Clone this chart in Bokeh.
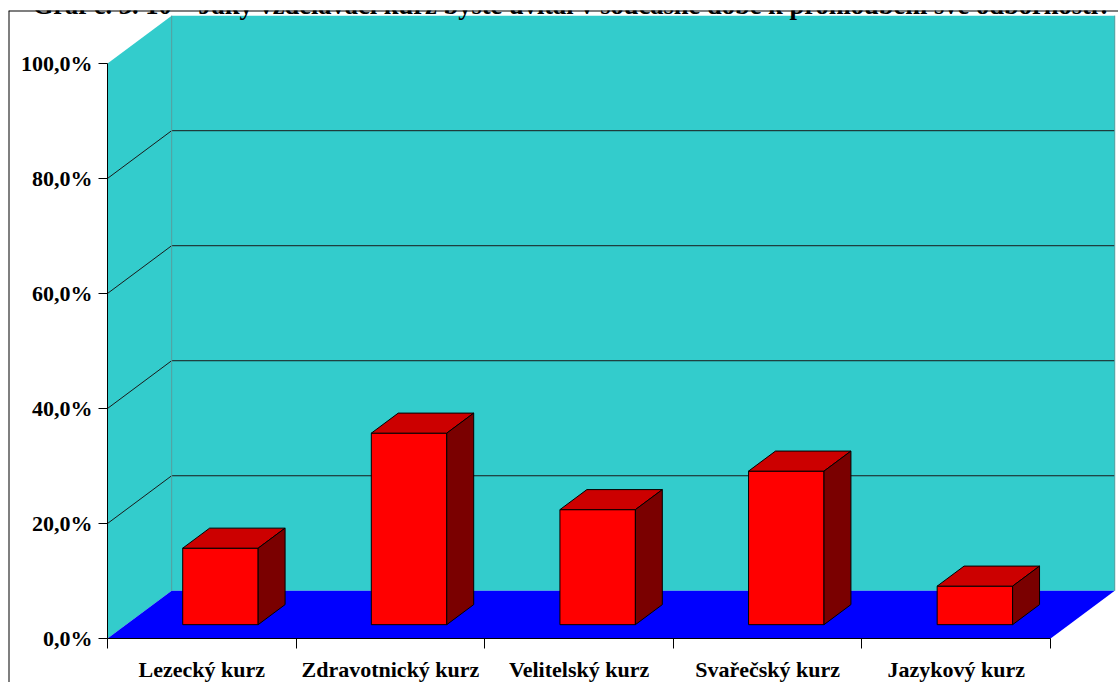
from bokeh.plotting import figure
from bokeh.models import Range1d, LinearAxis, FixedTicker, Label, Span
from bokeh.embed import file_html
from bokeh.resources import INLINE

# Survey answers (share of respondents, %)
categories = ["Lezecký kurz", "Zdravotnický kurz", "Velitelský kurz", "Svařečský kurz", "Jazykový kurz"]
shares = [13.3, 33.3, 20.0, 26.7, 6.7]
y_ticks = [0, 20, 40, 60, 80, 100]
y_tick_labels = ["0,0%", "20,0%", "40,0%", "60,0%", "80,0%", "100,0%"]
title_text = "Graf č. 3. 10 – Jaký vzdělávací kurz byste uvítal v současné době k prohloubení své odbornosti?"

FONT = "Liberation Serif"
WALL = "#33CCCC"
FLOOR = "#0000FF"
FRONT = "#FF0000"
TOP = "#CC0000"
SIDE = "#7A0000"

# 3-D depth of the chart box, expressed in data units (x: categories, y: percent)
DX, DY = 0.34, 8.3
n = len(categories)
X0, X1 = -0.525, 5.36
Y0, Y1 = -7.65, 109.2

p = figure(width=1118, height=682,
           x_range=Range1d(X0, X1), y_range=Range1d(Y0, Y1),
           x_axis_type=None, y_axis_type=None,
           output_backend="svg", toolbar_location=None,
           min_border_left=8, min_border_top=10, min_border_right=0, min_border_bottom=0)
p.outline_line_color = None
p.background_fill_color = "white"
p.border_fill_color = "white"

# walls and floor
p.patch([0, DX, DX, 0], [0, DY, 100 + DY, 100], fill_color=WALL, line_color=None)
p.quad(left=[DX], right=[n + DX], bottom=[DY], top=[100 + DY], fill_color=WALL, line_color=None)
p.patch([0, n, n + DX, DX], [0, 0, DY, DY], fill_color=FLOOR, line_color=None)

# gridlines on the back and left walls
grid = y_ticks[1:-1]
p.segment(x0=[DX] * len(grid), y0=[g + DY for g in grid], x1=[n + DX] * len(grid), y1=[g + DY for g in grid],
          line_color="#1a1a1a", line_width=1)
p.segment(x0=[0] * len(grid), y0=grid, x1=[DX] * len(grid), y1=[g + DY for g in grid],
          line_color="#1a1a1a", line_width=1)
# wall corner edges
p.segment(x0=[DX, n + DX], y0=[DY, DY], x1=[DX, n + DX], y1=[100 + DY, 100 + DY],
          line_color="#4E9C9C", line_width=1)

# 3-D bars
half = 0.2
d0, d1 = 0.29, 0.71
bdx, bdy = (d1 - d0) * DX, (d1 - d0) * DY
ox, oy = d0 * DX, d0 * DY
for i, v in enumerate(shares):
    c = i + 0.5 + ox
    l, r = c - half, c + half
    p.quad(left=[l], right=[r], bottom=[oy], top=[v + oy],
           fill_color=FRONT, line_color="black", line_width=1)
    p.patch([l, r, r + bdx, l + bdx], [v + oy, v + oy, v + oy + bdy, v + oy + bdy],
            fill_color=TOP, line_color="black", line_width=1)
    p.patch([r, r + bdx, r + bdx, r], [oy, oy + bdy, v + oy + bdy, v + oy],
            fill_color=SIDE, line_color="black", line_width=1)

# value axis on the front-left edge
yaxis = LinearAxis(fixed_location=0, bounds=(0, 100))
yaxis.ticker = FixedTicker(ticks=y_ticks)
yaxis.major_label_overrides = {t: s for t, s in zip(y_ticks, y_tick_labels)}
yaxis.major_tick_out = 9
yaxis.major_tick_in = 0
yaxis.minor_tick_out = 0
yaxis.minor_tick_in = 0
yaxis.major_label_standoff = 6
yaxis.major_label_text_font = FONT
yaxis.major_label_text_font_style = "bold"
yaxis.major_label_text_font_size = "22px"
yaxis.major_label_text_color = "black"
yaxis.axis_line_color = "black"
yaxis.major_tick_line_color = "black"
p.add_layout(yaxis, "left")

# category axis on the front edge of the floor
centers = [i + 0.5 for i in range(n)]
xaxis = LinearAxis(fixed_location=0, bounds=(0, n))
xaxis.ticker = FixedTicker(ticks=centers, minor_ticks=list(range(n + 1)))
xaxis.major_label_overrides = {c: name for c, name in zip(centers, categories)}
xaxis.major_tick_out = 0
xaxis.major_tick_in = 0
xaxis.minor_tick_out = 10
xaxis.minor_tick_in = 0
xaxis.minor_tick_line_color = "black"
xaxis.major_label_standoff = 8
xaxis.major_label_text_font = FONT
xaxis.major_label_text_font_style = "bold"
xaxis.major_label_text_font_size = "22px"
xaxis.major_label_text_color = "black"
xaxis.axis_line_color = "black"
p.add_layout(xaxis, "below")

# chart border (left and top edges)
p.add_layout(Span(location=X0, dimension="height", line_color="black", line_width=2))
p.add_layout(Span(location=Y1, dimension="width", line_color="black", line_width=2))

p.add_layout(Label(x=2.463, y=110.17, text=title_text, text_align="center", text_baseline="alphabetic",
                   text_font=FONT, text_font_style="bold", text_font_size="26.5px", text_color="black"))

open("out.html", "w").write(file_html(p, INLINE))
